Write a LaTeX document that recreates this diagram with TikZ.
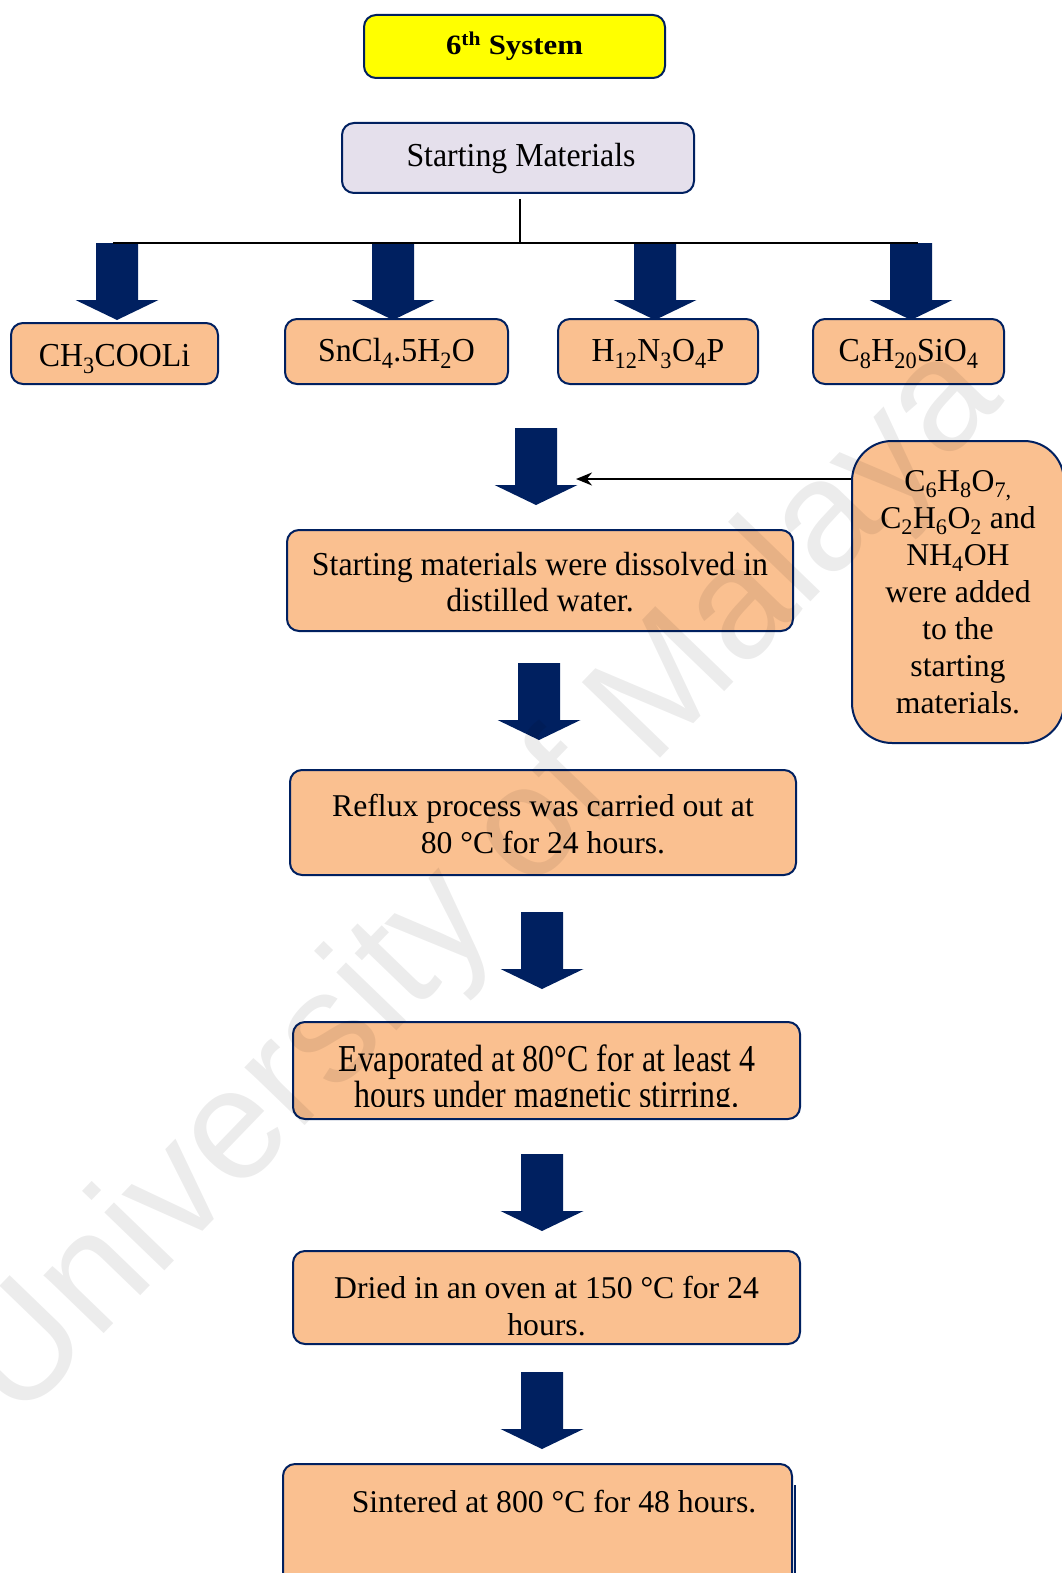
\documentclass[tikz,border=0pt]{standalone}
\usepackage{fontspec}
\setmainfont{Liberation Serif}
\newfontfamily\narrowserif{Liberation Serif}[FakeStretch=0.95]
\newfontfamily\tallserif{Liberation Serif}[FakeStretch=0.84]
\newfontfamily\wideserif{Liberation Serif}[FakeStretch=1.1]
\newfontfamily\wmfont{Liberation Sans}
\usetikzlibrary{arrows.meta}
\definecolor{navy}{HTML}{002060}
\definecolor{boxorange}{HTML}{FAC090}
\definecolor{lavender}{HTML}{E5E0EC}
\definecolor{headyellow}{HTML}{FFFF00}
\newcommand{\chsub}[1]{\textsubscript{#1}}
\begin{document}
\begin{tikzpicture}[x=1pt,y=-1pt,
  every node/.style={font=\fontsize{31.7}{37}\selectfont},
  narrowtext/.style={font=\narrowserif\fontsize{33.5}{36}\selectfont},
  box/.style={draw=navy, line width=2pt, rounded corners=12pt, fill=boxorange,
    align=center, inner sep=0pt},
  titlebox/.style={box, fill=headyellow, font=\wideserif\bfseries\fontsize{28}{30}\selectfont},
  smbox/.style={box, fill=lavender, narrowtext},
  chembox/.style={box, narrowtext, text height=20pt, text depth=0pt},
  link/.style={line width=2pt, draw=black},
  blockarrow/.pic={\fill[navy] (-21,0) -- (21,0) -- (21,57) -- (41.5,57)
    -- (0,77) -- (-41.5,57) -- (-21,57) -- cycle;}
]
\useasboundingbox (0,0) rectangle (1061,1573);

% heading and source box
\node[titlebox, minimum width=301, minimum height=63] (title) at (514.5,46.5)
  {6\textsuperscript{th} System};
\node[smbox, minimum width=352, minimum height=70] (sm) at (518,158)
  {\hspace*{6pt}Starting Materials};

% branch arrows to the four precursors
\pic at (117,243) {blockarrow};
\pic at (393,243) {blockarrow};
\pic at (655,243) {blockarrow};
\pic at (911,243) {blockarrow};
\coordinate (bl) at (113,243);
\coordinate (br) at (918,243);
\draw[link] ([xshift=2pt,yshift=-5pt]sm.south) -- ([xshift=2pt]sm.south |- bl);
\draw[link] (bl) -- (br);

% precursors
\node[chembox, text height=26pt, minimum width=207, minimum height=61] (p1) at (114.5,353.5) {CH\chsub{3}COOLi};
\node[chembox, minimum width=223, minimum height=65] (p2) at (396.5,351.5) {SnCl\chsub{4}.5H\chsub{2}O};
\node[chembox, minimum width=200, minimum height=65] (p3) at (658,351.5) {H\chsub{12}N\chsub{3}O\chsub{4}P};
\node[chembox, minimum width=191, minimum height=65] (p4) at (908.5,351.5) {C\chsub{8}H\chsub{20}SiO\chsub{4}};

% additives
\node[box, rounded corners=40pt, minimum width=212, minimum height=302] (add) at (958,592)
  {C\chsub{6}H\chsub{8}O\chsub{7,}\\ C\chsub{2}H\chsub{6}O\chsub{2} and\\ NH\chsub{4}OH\\
   were added\\ to the\\ starting\\ materials.};

% process flow
\pic at (536,428) {blockarrow};
\coordinate (hit) at (576,479);
\draw[link, -{Stealth[length=16pt,width=13pt]}] (add.west |- hit) -- (hit);

\node[box, minimum width=506, minimum height=101] (dis) at (540,580.5) {};
\node[narrowtext, align=center] (distext) at (540,582.5)
  {Starting materials were dissolved in\\ distilled water.};
\pic at (539,663) {blockarrow};
\node[box, minimum width=506, minimum height=105] (ref) at (543,822.5) {};
\node[align=center] (reftext) at (543,824)
  {Reflux process was carried out at\\ 80 °C for 24 hours.};
\pic at (542,912) {blockarrow};
\node[box, minimum width=507, minimum height=97] (evap) at (546.5,1070.5) {};
\begin{scope}
  \clip (293,1000) rectangle (800,1106);
  \node[align=center, font=\tallserif\fontsize{38}{32}\selectfont] (evaptext) at (547,1080)
    {Evaporated at 80°C for at least 4\\ hours under magnetic stirring.};
\end{scope}
\pic at (542,1154) {blockarrow};
\node[box, minimum width=507, minimum height=93] (dry) at (546.5,1297.5) {};
\node[align=center] (drytext) at (546.5,1306)
  {Dried in an oven at 150 °C for 24\\ hours.};
\pic at (542,1372) {blockarrow};
\node[box, minimum width=509, minimum height=140, anchor=north] (sint) at (537.5,1463) {};
\draw[navy, line width=2pt] ([xshift=1.5pt,yshift=-22pt]sint.north east) -- ([xshift=1.5pt]sint.south east);
\node (sinttext) at (554,1502) {Sintered at 800 °C for 48 hours.};

% watermark
\node[rotate=46, text=black, opacity=0.075, inner sep=0pt,
  font=\wmfont\fontsize{158}{158}\selectfont] (wm) at (482,884) {University of Malaya};
\end{tikzpicture}
\end{document}
